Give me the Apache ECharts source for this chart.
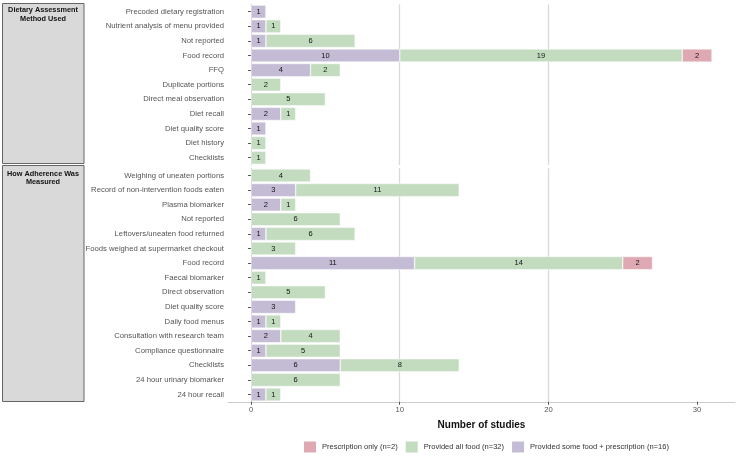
<!DOCTYPE html>
<html>
<head>
<meta charset="utf-8">
<script src="https://cdn.jsdelivr.net/npm/echarts@6/dist/echarts.min.js"></script>
<style>
html,body{margin:0;padding:0;background:#fff;}
#chart{width:740px;height:459px;}
</style>
</head>
<body>
<div id="chart"></div>
<script>
// ---- Data ----
const panelTitles = ['Dietary Assessment\nMethod Used', 'How Adherence Was\nMeasured'];

const dietCategories = ['Precoded dietary registration', 'Nutrient analysis of menu provided', 'Not reported', 'Food record', 'FFQ', 'Duplicate portions', 'Direct meal observation', 'Diet recall', 'Diet quality score', 'Diet history', 'Checklists'];
const dietSomeFood     = [1, 1, 1, 10, 4, null, null, 2, 1, null, null];
const dietAllFood      = [null, 1, 6, 19, 2, 2, 5, 1, null, 1, 1];
const dietPrescription = [null, null, null, 2, null, null, null, null, null, null, null];

const adhCategories = ['Weighing of uneaten portions', 'Record of non-intervention foods eaten', 'Plasma biomarker', 'Not reported', 'Leftovers/uneaten food returned', 'Foods weighed at supermarket checkout', 'Food record', 'Faecal biomarker', 'Direct observation', 'Diet quality score', 'Daily food menus', 'Consultation with research team', 'Compliance questionnaire', 'Checklists', '24 hour urinary biomarker', '24 hour recall'];
const adhSomeFood     = [null, 3, 2, null, 1, null, 11, null, null, 3, 1, 2, 1, 6, null, 1];
const adhAllFood      = [4, 11, 1, 6, 6, 3, 14, 1, 5, null, 1, 4, 5, 8, 6, 1];
const adhPrescription = [null, null, null, null, null, null, 2, null, null, null, null, null, null, null, null, null];

const seriesNames = ['Prescription only (n=2)', 'Provided all food (n=32)', 'Provided some food + prescription (n=16)'];
const xTicks = [0, 10, 20, 30];

// ---- Styles ----
const colors = {
  [seriesNames[0]]: '#dfa9b3',
  [seriesNames[1]]: '#c3dcc0',
  [seriesNames[2]]: '#c4bcd4'
};
const FONT = '"Liberation Sans", Arial, Helvetica, sans-serif';
const XMIN = -1.55, XMAX = 32.55;

const band = 14.6;
const topGrid = { top: 4.4, height: band * dietCategories.length };
const botGrid = { top: 168.2, height: band * adhCategories.length };

function mkSeries(name, data, idx) {
  return {
    name: name,
    type: 'bar',
    stack: 'p' + idx,
    xAxisIndex: idx,
    yAxisIndex: idx,
    barWidth: '90%',
    data: data,
    itemStyle: { color: colors[name], borderColor: '#ffffff', borderWidth: 0.5 },
    label: {
      show: true,
      position: 'inside',
      color: '#111',
      fontSize: 7.5,
      fontFamily: FONT,
      formatter: p => (p.value == null ? '' : String(p.value))
    },
    emphasis: { disabled: true },
    animation: false
  };
}

function mkX(idx, showLabels) {
  return {
    type: 'value',
    gridIndex: idx,
    min: XMIN,
    max: XMAX,
    splitNumber: 3,
    axisLine: { show: showLabels, lineStyle: { color: '#cccccc', width: 1 } },
    axisTick: { show: showLabels, length: 3, lineStyle: { color: '#555' }, customValues: xTicks },
    axisLabel: { show: showLabels, color: '#555', fontSize: 7.7, fontFamily: FONT, margin: 4, customValues: xTicks },
    splitLine: { show: true, showMinLine: false, showMaxLine: false, lineStyle: { color: '#d9d9d9', width: 1.3 } },
    name: showLabels ? 'Number of studies' : '',
    nameLocation: 'middle',
    nameGap: 18,
    nameTextStyle: { color: '#111', fontSize: 10, fontWeight: 'bold', fontFamily: FONT }
  };
}

function mkY(idx, cats) {
  return {
    type: 'category',
    gridIndex: idx,
    data: cats,
    inverse: true,
    axisLine: { show: true, lineStyle: { color: '#cccccc', width: 1 } },
    axisTick: { show: true, length: 3, alignWithLabel: true, lineStyle: { color: '#555' } },
    axisLabel: { color: '#555', fontSize: 7.7, fontFamily: FONT, margin: 4, interval: 0 },
    splitLine: { show: false }
  };
}

const option = {
  backgroundColor: '#ffffff',
  animation: false,
  grid: [
    { left: 228, right: 5, top: topGrid.top, height: topGrid.height },
    { left: 228, right: 5, top: botGrid.top, height: botGrid.height }
  ],
  xAxis: [mkX(0, false), mkX(1, true)],
  yAxis: [mkY(0, dietCategories), mkY(1, adhCategories)],
  legend: {
    data: seriesNames,
    left: 302,
    top: 439.5,
    padding: 0,
    itemWidth: 14,
    itemHeight: 13,
    itemGap: 6,
    icon: 'rect',
    selectedMode: false,
    textStyle: { color: '#333', fontSize: 7.55, fontFamily: FONT }
  },
  series: [
    mkSeries(seriesNames[2], dietSomeFood, 0),
    mkSeries(seriesNames[1], dietAllFood, 0),
    mkSeries(seriesNames[0], dietPrescription, 0),
    mkSeries(seriesNames[2], adhSomeFood, 1),
    mkSeries(seriesNames[1], adhAllFood, 1),
    mkSeries(seriesNames[0], adhPrescription, 1)
  ],
  graphic: [
    { type: 'rect', shape: { x: 2.5, y: 3.5, width: 81.5, height: 160 }, style: { fill: '#d9d9d9', stroke: '#666', lineWidth: 1 } },
    { type: 'text', x: 43, y: 6, style: { text: panelTitles[0], align: 'center', verticalAlign: 'top', fill: '#111', font: 'bold 7.3px ' + FONT, lineHeight: 8.5 } },
    { type: 'rect', shape: { x: 2.5, y: 165.5, width: 81.5, height: 236 }, style: { fill: '#d9d9d9', stroke: '#666', lineWidth: 1 } },
    { type: 'text', x: 43, y: 169.5, style: { text: panelTitles[1], align: 'center', verticalAlign: 'top', fill: '#111', font: 'bold 7.3px ' + FONT, lineHeight: 8.5 } }
  ]
};

const chart = echarts.init(document.getElementById('chart'), null, { renderer: 'canvas' });
chart.setOption(option);
</script>
</body>
</html>
